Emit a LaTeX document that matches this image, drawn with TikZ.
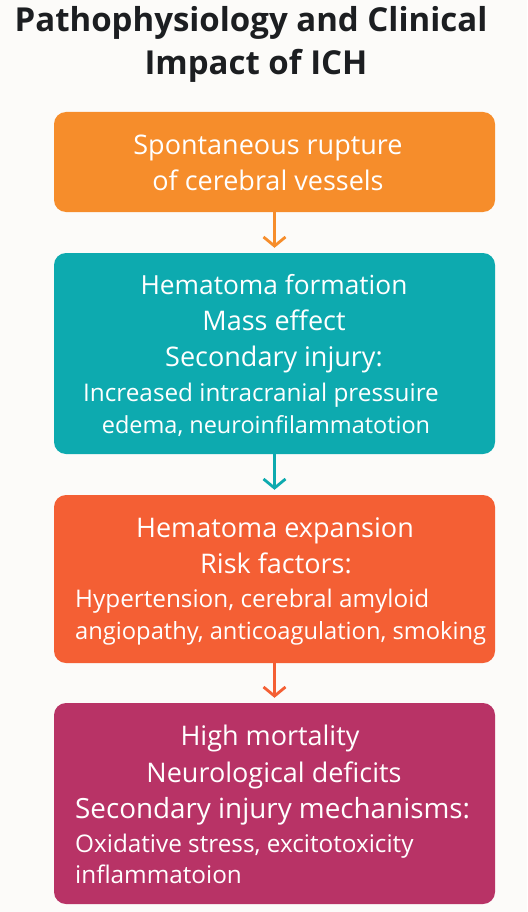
\documentclass[tikz,border=0pt]{standalone}
\usepackage{fontspec}
\setmainfont{Open Sans}
\usetikzlibrary{arrows.meta}

\definecolor{rupture}{HTML}{F68D2B}
\definecolor{hematoma}{HTML}{0DAAAF}
\definecolor{expansion}{HTML}{F45F34}
\definecolor{impact}{HTML}{B83366}
\definecolor{paper}{HTML}{FCFBF9}
\definecolor{ink}{HTML}{1C1E21}

\begin{document}
\begin{tikzpicture}[
    x=1pt, y=-1pt,
    box/.style={rounded corners=12pt, minimum width=441pt, inner sep=0pt},
    head/.style={anchor=base, inner sep=0pt, text=white, font=\fontsize{27}{31}\selectfont},
    detail/.style={anchor=base, inner sep=0pt, text=white, font=\fontsize{24.3}{28}\selectfont},
    flow/.style={-{Straight Barb[length=9pt, width=22pt]}, line width=2.8pt, shorten >=5pt}
]

% Background
\fill[paper] (0,0) rectangle (527,912);
\useasboundingbox (0,0) rectangle (527,912);

% Title
\node[anchor=base, text=ink, font=\fontsize{33}{38}\selectfont\bfseries] (title1) at (251,32) {Pathophysiology and Clinical};
\node[anchor=base, text=ink, font=\fontsize{33}{38}\selectfont\bfseries] (title2) at (256,75) {Impact of ICH};

% Boxes
\node[box, fill=rupture, minimum height=100pt] (rupture) at (274.5,162) {};
\node[box, fill=hematoma, minimum height=201pt] (hematoma) at (274.5,353.5) {};
\node[box, fill=expansion, minimum height=168pt] (expansion) at (274.5,579) {};
\node[box, fill=impact, minimum height=201pt] (impact) at (274.5,803.5) {};

% Box texts
\node[head] (r1) at (268,155) {Spontaneous rupture};
\node[head] (r2) at (268,190) {of cerebral vessels};

\node[head, font=\fontsize{26.3}{30}\selectfont] (h1) at (274,294) {Hematoma formation};
\node[head] (h2) at (274,330) {Mass effect};
\node[head] (h3) at (274,366) {Secondary injury:};
\node[detail] (h4) at (261,401) {Increased intracranial pressuire};
\node[detail, font=\fontsize{23.5}{28}\selectfont] (h5) at (266,433) {edema, neuroinfilammatotion};

\node[head] (e1) at (275,537) {Hematoma expansion};
\node[head] (e2) at (276,573) {Risk factors:};
\node[detail, anchor=base west] (e3) at (75,607) {Hypertension, cerebral amyloid};
\node[detail, anchor=base west, font=\fontsize{23.7}{28}\selectfont] (e4) at (75,639) {angiopathy, anticoagulation, smoking};

\node[head] (i1) at (270,745) {High mortality};
\node[head] (i2) at (274,782) {Neurological deficits};
\node[head, anchor=base west, font=\fontsize{27.8}{31}\selectfont] (i3) at (75,818) {Secondary injury mechanisms:};
\node[detail, anchor=base west] (i4) at (75,852) {Oxidative stress, excitotoxicity};
\node[detail, anchor=base west] (i5) at (75,883) {inflammatoion};

% Arrows
\draw[flow, rupture] (rupture) -- (hematoma);
\draw[flow, hematoma] (hematoma) -- (expansion);
\draw[flow, expansion] (expansion) -- (impact);

\end{tikzpicture}
\end{document}
